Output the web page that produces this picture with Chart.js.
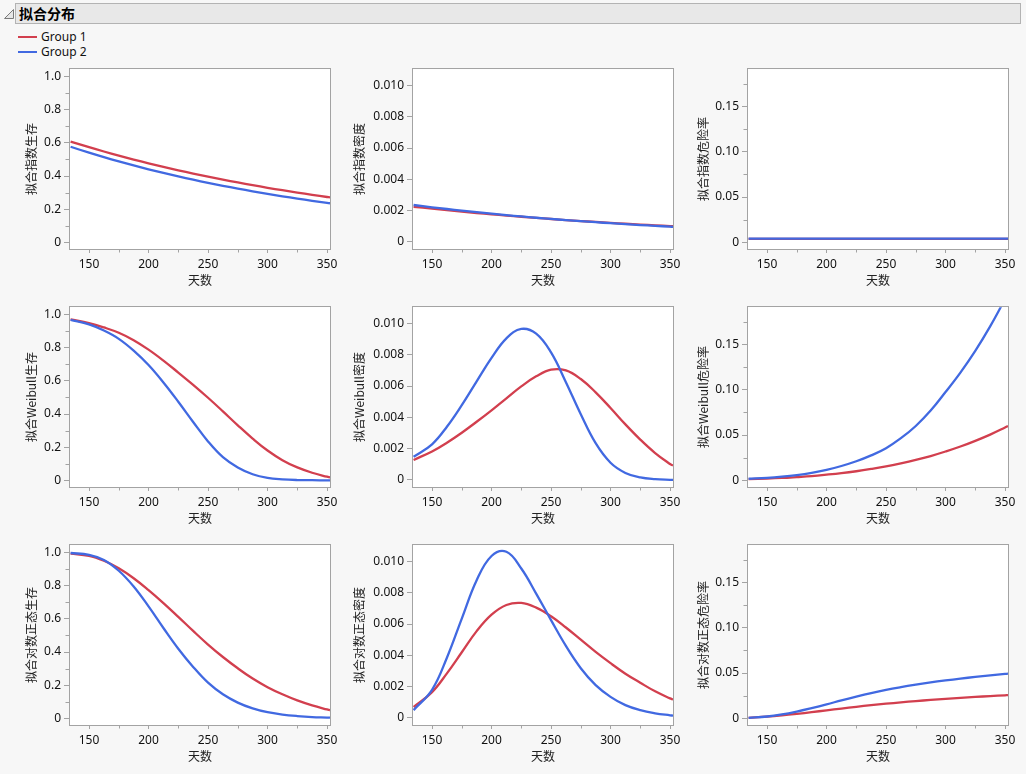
<!DOCTYPE html>
<html><head><meta charset="utf-8">
<script src="https://cdn.jsdelivr.net/npm/chart.js@4.4.1/dist/chart.umd.min.js"></script>
<style>
html,body{margin:0;padding:0;}
body{width:1026px;height:774px;position:relative;overflow:hidden;background:#f7f7f7;font-family:"Noto Sans","Noto Sans CJK SC",sans-serif;}
#tri{position:absolute;left:3px;top:8px;}
#titlebar{position:absolute;left:15px;top:3px;width:1004px;height:19px;background:#e8e8e8;border:1px solid #b3b3b3;}
#titlebar span{position:absolute;left:3px;top:0;font:bold 14px "Noto Sans CJK SC",sans-serif;line-height:19px;color:#000;}
.leg{position:absolute;left:18px;font:12px "Noto Sans",sans-serif;line-height:14px;color:#111;white-space:nowrap;}
.leg i{display:inline-block;width:19px;height:2px;vertical-align:middle;margin-right:4px;position:relative;top:-1px;}
canvas{position:absolute;}
</style>
</head><body>
<svg id="tri" width="12" height="12"><polygon points="10.5,1.5 10.5,10.5 1.5,10.5" fill="#e6e6e6" stroke="#7a7a7a" stroke-width="1"/></svg>
<div id="titlebar"><span>拟合分布</span></div>
<div class="leg" style="top:30px"><i style="background:#d23f4e"></i>Group 1</div>
<div class="leg" style="top:45px"><i style="background:#4169e1"></i>Group 2</div>
<script>
// ---- data ----
const X = [134.5, 150, 162.5, 175, 187.5, 200, 212.5, 225, 237.5, 250, 262.5, 275, 287.5, 300, 312.5, 325, 337.5, 350, 352.5];

const expSurv1 = [0.6077,0.5738,0.5478,0.5230,0.4994,0.4768,0.4552,0.4346,0.4150,0.3962,0.3783,0.3611,0.3448,0.3292,0.3143,0.3001,0.2865,0.2735,0.2710];
const expSurv2 = [0.5763,0.5408,0.5138,0.4881,0.4637,0.4406,0.4186,0.3977,0.3778,0.3589,0.3410,0.3240,0.3078,0.2924,0.2778,0.2640,0.2508,0.2383,0.2358];
const expDens1 = [0.002251,0.002125,0.002029,0.001937,0.001850,0.001766,0.001686,0.001610,0.001537,0.001467,0.001401,0.001337,0.001277,0.001219,0.001164,0.001111,0.001061,0.001013,0.001004];
const expDens2 = [0.002362,0.002216,0.002106,0.002000,0.001900,0.001806,0.001716,0.001630,0.001548,0.001471,0.001398,0.001328,0.001261,0.001198,0.001139,0.001082,0.001028,0.000977,0.000966];
const expHaz1 = [0.0037,0.0037,0.0037,0.0037,0.0037,0.0037,0.0037,0.0037,0.0037,0.0037,0.0037,0.0037,0.0037,0.0037,0.0037,0.0037,0.0037,0.0037,0.0037];
const expHaz2 = [0.0041,0.0041,0.0041,0.0041,0.0041,0.0041,0.0041,0.0041,0.0041,0.0041,0.0041,0.0041,0.0041,0.0041,0.0041,0.0041,0.0041,0.0041,0.0041];

const weiSurv1 = [0.970,0.948,0.922,0.890,0.845,0.788,0.722,0.650,0.576,0.498,0.416,0.332,0.252,0.180,0.122,0.078,0.046,0.022,0.018];
const weiSurv2 = [0.968,0.940,0.903,0.853,0.782,0.695,0.590,0.474,0.352,0.235,0.140,0.078,0.037,0.015,0.006,0.002,0.001,0.000,0.000];
const weiDens1 = [0.00128,0.00182,0.00238,0.00302,0.00372,0.00445,0.00522,0.00598,0.00662,0.00705,0.00700,0.00645,0.00560,0.00460,0.00355,0.00258,0.00172,0.00102,0.00092];
const weiDens2 = [0.00148,0.00228,0.00340,0.00478,0.00630,0.00780,0.00905,0.00965,0.00935,0.00815,0.00625,0.00420,0.00235,0.00110,0.00045,0.00016,0.00005,0.00001,0.00001];
const weiHaz1 = [0.0013,0.0019,0.0026,0.0036,0.0047,0.0062,0.0079,0.0100,0.0125,0.0153,0.0187,0.0225,0.0268,0.0318,0.0373,0.0436,0.0505,0.0583,0.0600];
const weiHaz2 = [0.0017,0.0027,0.0040,0.0058,0.0083,0.0116,0.0158,0.0210,0.0275,0.0355,0.0465,0.0600,0.0770,0.0975,0.1190,0.1430,0.1700,0.2000,0.2060];

const lnSurv1 = [0.993,0.980,0.950,0.905,0.845,0.773,0.695,0.612,0.527,0.445,0.370,0.302,0.240,0.188,0.145,0.108,0.078,0.054,0.050];
const lnSurv2 = [0.997,0.986,0.955,0.890,0.795,0.675,0.545,0.420,0.310,0.215,0.145,0.095,0.060,0.037,0.023,0.014,0.008,0.005,0.004];
const lnDens1 = [0.00070,0.00165,0.00285,0.00420,0.00555,0.00660,0.00722,0.00735,0.00705,0.00650,0.00578,0.00500,0.00422,0.00350,0.00283,0.00225,0.00170,0.00125,0.00118];
const lnDens2 = [0.00050,0.00180,0.00385,0.00635,0.00880,0.01035,0.01062,0.00955,0.00795,0.00625,0.00460,0.00318,0.00210,0.00135,0.00082,0.00050,0.00030,0.00017,0.00015];
const lnHaz1 = [0.0005,0.0018,0.0032,0.0049,0.0068,0.0088,0.0108,0.0127,0.0145,0.0161,0.0176,0.0190,0.0203,0.0215,0.0226,0.0236,0.0245,0.0254,0.0256];
const lnHaz2 = [0.0004,0.0020,0.0043,0.0075,0.0113,0.0154,0.0198,0.0240,0.0279,0.0314,0.0344,0.0371,0.0396,0.0418,0.0438,0.0457,0.0474,0.0490,0.0493];

// ---- axes ----
const xRange = [134, 352.5];
const xTicks = [150, 200, 250, 300, 350];
const xTickLabels = ['150', '200', '250', '300', '350'];
const xMinor = [175, 225, 275, 325];

const survRange = [-0.040, 1.044];
const survTicks = [0, 0.2, 0.4, 0.6, 0.8, 1.0];
const survLabels = ['0', '0.2', '0.4', '0.6', '0.8', '1.0'];
const survMinor = [0.1, 0.3, 0.5, 0.7, 0.9];

const densRange = [-0.00045, 0.01104];
const densTicks = [0, 0.002, 0.004, 0.006, 0.008, 0.010];
const densLabels = ['0', '0.002', '0.004', '0.006', '0.008', '0.010'];
const densMinor = [];

const hazRange = [-0.0074, 0.1912];
const hazTicks = [0, 0.05, 0.10, 0.15];
const hazLabels = ['0', '0.05', '0.10', '0.15'];
const hazMinor = [0.025, 0.075, 0.125, 0.175];

const xTitle = '天数';
const seriesNames = ['Group 1', 'Group 2'];

// ---- style ----
const RED = '#d23f4e', BLUE = '#4169e1', AXIS = '#a3a3a3';
const tickFont = {family: '"Noto Sans", sans-serif', size: 12};
const titleFont = {family: '"Noto Sans CJK SC", "Noto Sans", sans-serif', size: 12};
const colLeft = [70, 413, 748], rowTop = [69, 307, 545], colYW = [46, 61, 52];
const PW = 260, PH = 180, PADL = 70, PADT = 10, PADR = 12, PADB = 45, XH = 39;

const framePlugin = {
  id: 'frame',
  beforeDraw(chart) {
    const {ctx, chartArea: a} = chart;
    ctx.save(); ctx.fillStyle = '#ffffff'; ctx.fillRect(a.left, a.top, a.width, a.height); ctx.restore();
  },
  afterDraw(chart, args, opts) {
    const {ctx, chartArea: a, scales: {x, y}} = chart;
    ctx.save();
    ctx.strokeStyle = AXIS; ctx.lineWidth = 1;
    ctx.strokeRect(Math.round(a.left) - 0.5, Math.round(a.top) - 0.5, Math.round(a.width) + 1, Math.round(a.height) + 1);
    ctx.beginPath();
    (opts.xMinor || []).forEach(v => {
      const px = Math.round(x.getPixelForValue(v)) + 0.5;
      ctx.moveTo(px, Math.round(a.bottom) + 0.5); ctx.lineTo(px, Math.round(a.bottom) + 3.5);
    });
    (opts.yMinor || []).forEach(v => {
      const py = Math.round(y.getPixelForValue(v)) + 0.5;
      ctx.moveTo(Math.round(a.left) - 0.5, py); ctx.lineTo(Math.round(a.left) - 4.5, py);
    });
    ctx.stroke();
    ctx.restore();
  }
};

function makeChart(c) {
  const L = colLeft[c.col], T = rowTop[c.row], yW = colYW[c.col];
  const cv = document.createElement('canvas');
  cv.width = PW + PADL + PADR; cv.height = PH + PADT + PADB;
  cv.style.left = (L - PADL) + 'px'; cv.style.top = (T - PADT) + 'px';
  cv.style.width = cv.width + 'px'; cv.style.height = cv.height + 'px';
  document.body.appendChild(cv);
  new Chart(cv, {
    type: 'line',
    data: {datasets: [
      {label: seriesNames[0], data: X.map((x, i) => ({x, y: c.g1[i]})), borderColor: RED, order: 1},
      {label: seriesNames[1], data: X.map((x, i) => ({x, y: c.g2[i]})), borderColor: BLUE, order: 0}
    ]},
    options: {
      responsive: false, animation: false, devicePixelRatio: 1,
      layout: {autoPadding: false, padding: {left: PADL - yW, top: PADT, right: PADR, bottom: PADB - XH}},
      elements: {point: {radius: 0}, line: {borderWidth: 2.3, tension: 0.4, fill: false}},
      plugins: {legend: {display: false}, tooltip: {enabled: false}, frame: {xMinor: xMinor, yMinor: c.yMinor}},
      scales: {
        x: {
          type: 'linear', min: xRange[0], max: xRange[1],
          afterFit(s) { s.height = XH; },
          afterBuildTicks(s) { s.ticks = xTicks.map(v => ({value: v})); },
          ticks: {callback: (v, i) => xTickLabels[i], font: tickFont, color: '#111', padding: 4, maxRotation: 0, autoSkip: false},
          grid: {display: true, drawOnChartArea: false, drawTicks: true, tickLength: 4, color: AXIS},
          border: {display: false},
          title: {display: true, text: xTitle, font: titleFont, color: '#222', padding: 0}
        },
        y: {
          type: 'linear', min: c.yRange[0], max: c.yRange[1],
          afterFit(s) { s.width = yW; },
          afterBuildTicks(s) { s.ticks = c.yTicks.map(v => ({value: v})); },
          ticks: {callback: (v, i) => c.yLabels[i], font: tickFont, color: '#111', padding: 3, autoSkip: false},
          grid: {display: true, drawOnChartArea: false, drawTicks: true, tickLength: 6, color: AXIS},
          border: {display: false},
          title: {display: true, text: c.title, font: titleFont, color: '#222', padding: 0}
        }
      }
    },
    plugins: [framePlugin]
  });
}

const surv = {yRange: survRange, yTicks: survTicks, yLabels: survLabels, yMinor: survMinor};
const dens = {yRange: densRange, yTicks: densTicks, yLabels: densLabels, yMinor: densMinor};
const haz = {yRange: hazRange, yTicks: hazTicks, yLabels: hazLabels, yMinor: hazMinor};

[
  Object.assign({row: 0, col: 0, title: '拟合指数生存', g1: expSurv1, g2: expSurv2}, surv),
  Object.assign({row: 0, col: 1, title: '拟合指数密度', g1: expDens1, g2: expDens2}, dens),
  Object.assign({row: 0, col: 2, title: '拟合指数危险率', g1: expHaz1, g2: expHaz2}, haz),
  Object.assign({row: 1, col: 0, title: '拟合Weibull生存', g1: weiSurv1, g2: weiSurv2}, surv),
  Object.assign({row: 1, col: 1, title: '拟合Weibull密度', g1: weiDens1, g2: weiDens2}, dens),
  Object.assign({row: 1, col: 2, title: '拟合Weibull危险率', g1: weiHaz1, g2: weiHaz2}, haz),
  Object.assign({row: 2, col: 0, title: '拟合对数正态生存', g1: lnSurv1, g2: lnSurv2}, surv),
  Object.assign({row: 2, col: 1, title: '拟合对数正态密度', g1: lnDens1, g2: lnDens2}, dens),
  Object.assign({row: 2, col: 2, title: '拟合对数正态危险率', g1: lnHaz1, g2: lnHaz2}, haz)
].forEach(makeChart);
</script>
</body></html>
